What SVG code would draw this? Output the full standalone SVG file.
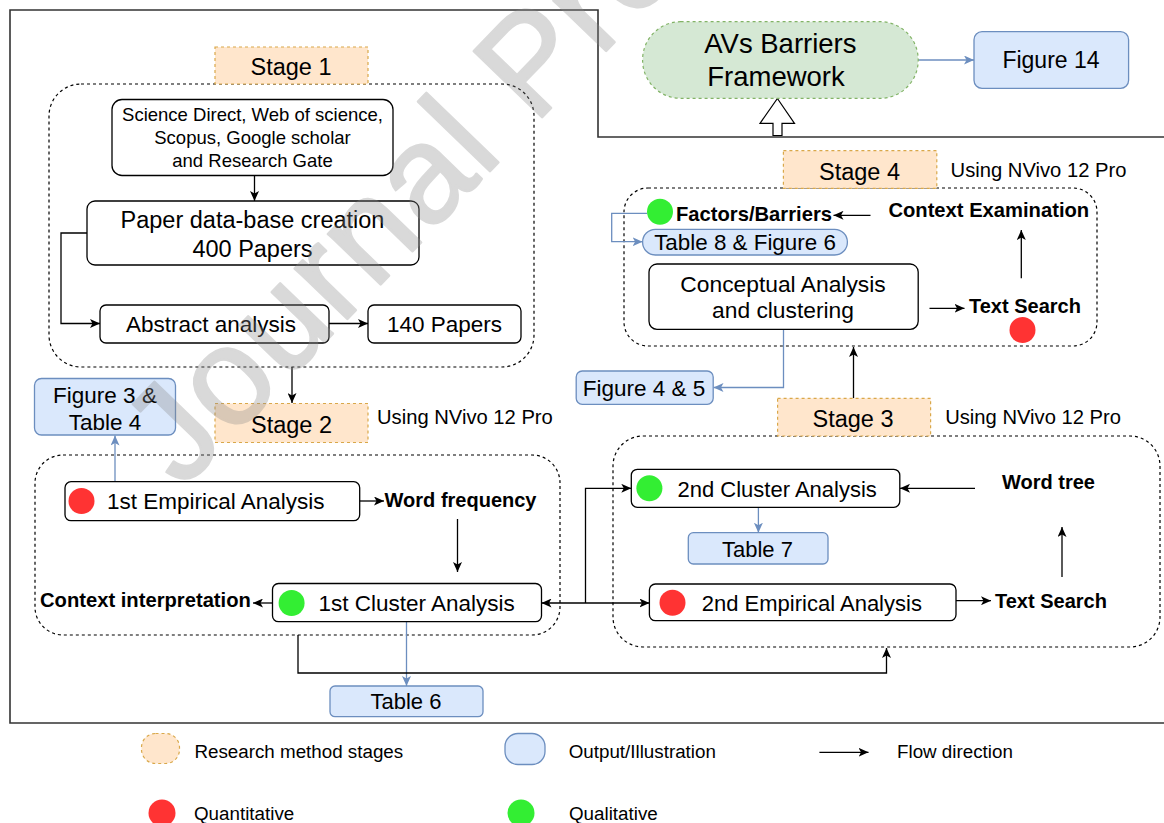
<svg xmlns="http://www.w3.org/2000/svg" width="1164" height="823" viewBox="0 0 1164 823">
<style>
.t{font-family:"Liberation Sans",Arial,Helvetica,sans-serif;fill:#000}
.b{font-weight:bold}
.box{fill:#fff;stroke:#000;stroke-width:1.3}
.stage{fill:#ffe6cc;stroke:#d9a84a;stroke-width:1.2;stroke-dasharray:3 3}
.out{fill:#dae8fc;stroke:#6c8ebf;stroke-width:1.3}
.cont{fill:none;stroke:#000;stroke-width:1.2;stroke-dasharray:3 3}
.c{fill:none;stroke:#000;stroke-width:1.3}
.cb{fill:none;stroke:#6c8ebf;stroke-width:1.3}
.red{fill:#f33}
.grn{fill:#3e3}
</style>
<defs>
<marker id="ak" markerUnits="userSpaceOnUse" markerWidth="11" markerHeight="9" refX="10" refY="4.5" orient="auto-start-reverse"><path d="M0,0 L10,4.5 L0,9 L2.5,4.5 z" fill="#000"/></marker>
<marker id="abl" markerUnits="userSpaceOnUse" markerWidth="11" markerHeight="9" refX="10" refY="4.5" orient="auto-start-reverse"><path d="M0,0 L10,4.5 L0,9 L2.5,4.5 z" fill="#6c8ebf"/></marker>
</defs>
<rect width="1164" height="823" fill="#fff"/>
<path id="frame" d="M1164,137 H598 V10 H10 V723 H1164" fill="none" stroke="#333" stroke-width="1.6"/>

<g id="containers">
<rect id="c1" class="cont" x="49" y="84" width="485" height="283" rx="32"/>
<rect id="c2" class="cont" x="35" y="455" width="525" height="180" rx="28"/>
<rect id="c3" class="cont" x="613" y="436" width="547" height="211" rx="30"/>
<rect id="c4" class="cont" x="624" y="188" width="473" height="158" rx="24"/>
</g>

<g id="connectors">
<path class="c" d="M254.5,176 V201" marker-end="url(#ak)"/>
<path class="c" d="M87,233 H61 V323.5 H100" marker-end="url(#ak)"/>
<path class="c" d="M329,323.5 H368" marker-end="url(#ak)"/>
<path class="c" d="M292,367 V403" marker-end="url(#ak)"/>
<path class="cb" d="M115,482 V435.5" marker-end="url(#abl)"/>
<path class="c" d="M360,501 H384" marker-end="url(#ak)"/>
<path class="c" d="M457.5,519 V572" marker-end="url(#ak)"/>
<path class="c" d="M272.5,603 H253" marker-end="url(#ak)"/>
<path class="cb" d="M406.5,622 V686" marker-end="url(#abl)"/>
<path class="c" d="M541.5,603 H649.5" marker-start="url(#ak)" marker-end="url(#ak)"/>
<path class="c" d="M585.5,603 V488.3 H631.3" marker-end="url(#ak)"/>
<path class="c" d="M298,635 V673 H886.5 V648" marker-end="url(#ak)"/>
<path class="c" d="M975,488.3 H900" marker-end="url(#ak)"/>
<path class="cb" d="M758.4,507.5 V532.7" marker-end="url(#abl)"/>
<path class="c" d="M956,600.7 H991" marker-end="url(#ak)"/>
<path class="c" d="M1062,577 V527" marker-end="url(#ak)"/>
<path class="c" d="M853.5,398.3 V347" marker-end="url(#ak)"/>
<path class="cb" d="M783.5,329.5 V387.5 H713.5" marker-end="url(#abl)"/>
<path class="c" d="M929.5,308.3 H964.5" marker-end="url(#ak)"/>
<path class="c" d="M1021.3,278.3 V230" marker-end="url(#ak)"/>
<path class="c" d="M870.5,215.3 H833.5" marker-end="url(#ak)"/>
<path class="cb" d="M647,213.3 H611.7 V241.7 H642.6" marker-end="url(#abl)"/>
<path class="cb" d="M918.2,60 H974" marker-end="url(#abl)"/>
<polygon points="777.4,98.5 794.5,123.3 782,123.3 782,135.5 773,135.5 773,123.3 760,123.3" fill="#fff" stroke="#000" stroke-width="1.2"/>
</g>

<g id="stage1"><rect class="stage" x="215" y="47" width="153" height="37"/><text class="t" x="291" y="75" font-size="23.5" text-anchor="middle">Stage 1</text></g>
<g id="sources"><rect class="box" x="112" y="99.5" width="281" height="76" rx="10"/>
<text class="t" font-size="18.5" text-anchor="middle"><tspan x="252.5" y="121">Science Direct, Web of science,</tspan><tspan x="252.5" y="144">Scopus, Google scholar</tspan><tspan x="252.5" y="167">and Research Gate</tspan></text></g>
<g id="paperdb"><rect class="box" x="87" y="201" width="332" height="64" rx="8"/>
<text class="t" font-size="23.5" text-anchor="middle"><tspan x="252.5" y="228">Paper data-base creation</tspan><tspan x="252.5" y="256.5">400 Papers</tspan></text></g>
<g id="abstract"><rect class="box" x="100" y="305" width="229" height="38" rx="6"/><text class="t" x="211" y="332" font-size="22.5" text-anchor="middle">Abstract analysis</text></g>
<g id="papers140"><rect class="box" x="368" y="305" width="153" height="38" rx="6"/><text class="t" x="444.5" y="332" font-size="22.5" text-anchor="middle">140 Papers</text></g>

<g id="fig3"><rect class="out" x="34.5" y="378.5" width="141" height="56.5" rx="7"/>
<text class="t" font-size="22.5" text-anchor="middle"><tspan x="105" y="402.5">Figure 3 &amp;</tspan><tspan x="105" y="429.5">Table 4</tspan></text></g>
<g id="stage2"><rect class="stage" x="215" y="403.5" width="153" height="39"/><text class="t" x="291.5" y="433" font-size="23.5" text-anchor="middle">Stage 2</text></g>
<text id="nvivo2" class="t" x="377" y="424" font-size="20.2">Using NVivo 12 Pro</text>

<g id="emp1"><rect class="box" x="65" y="481.7" width="294.7" height="39" rx="6"/><circle class="red" cx="81.5" cy="501" r="13"/><text class="t" x="107" y="509.3" font-size="22.5">1st Empirical Analysis</text></g>
<text id="wordfreq" class="t b" x="384.6" y="506.7" font-size="20">Word frequency</text>
<g id="clu1"><rect class="box" x="272.5" y="583.5" width="269" height="38.2" rx="6"/><circle class="grn" cx="291.6" cy="603" r="13"/><text class="t" x="318.4" y="610.7" font-size="22.5">1st Cluster Analysis</text></g>
<text id="ctxint" class="t b" x="40" y="607.3" font-size="20.2">Context interpretation</text>
<g id="table6"><rect class="out" x="330" y="686" width="153" height="30.7" rx="5"/><text class="t" x="406" y="708.5" font-size="22" text-anchor="middle">Table 6</text></g>

<g id="fig45"><rect class="out" x="576.2" y="371" width="137" height="33.3" rx="6"/><text class="t" x="644" y="396" font-size="22.5" text-anchor="middle">Figure 4 &amp; 5</text></g>
<g id="stage3"><rect class="stage" x="777.6" y="398.3" width="153" height="37.7"/><text class="t" x="853" y="426.7" font-size="23.5" text-anchor="middle">Stage 3</text></g>
<text id="nvivo3" class="t" x="945.2" y="424" font-size="20.2">Using NVivo 12 Pro</text>
<g id="clu2"><rect class="box" x="631.3" y="469.3" width="268.5" height="38" rx="6"/><circle class="grn" cx="649.4" cy="488.3" r="13"/><text class="t" x="677.5" y="497.3" font-size="22">2nd Cluster Analysis</text></g>
<text id="wordtree" class="t b" x="1002" y="489.3" font-size="20">Word tree</text>
<g id="table7"><rect class="out" x="688.3" y="532.7" width="139.7" height="31.3" rx="5"/><text class="t" x="757.5" y="557.3" font-size="22" text-anchor="middle">Table 7</text></g>
<g id="emp2"><rect class="box" x="649.4" y="584" width="306.6" height="36.7" rx="6"/><circle class="red" cx="672.5" cy="602.7" r="13"/><text class="t" x="701.8" y="610.7" font-size="22">2nd Empirical Analysis</text></g>
<text id="textsearch3" class="t b" x="995" y="608.3" font-size="20">Text Search</text>

<g id="avs"><rect x="642.6" y="21.7" width="275.6" height="76.6" rx="38" fill="#d5e8d4" stroke="#82b366" stroke-width="1.2" stroke-dasharray="3 3"/>
<text class="t" font-size="27.5" text-anchor="middle"><tspan x="780.4" y="53.3">AVs Barriers</tspan><tspan x="776" y="86">Framework</tspan></text></g>
<g id="fig14"><rect class="out" x="974" y="31.7" width="154.6" height="56.6" rx="8"/><text class="t" x="1051" y="68.3" font-size="23" text-anchor="middle">Figure 14</text></g>
<g id="stage4"><rect class="stage" x="783.4" y="150.7" width="153.4" height="37.6"/><text class="t" x="859.5" y="180" font-size="23.5" text-anchor="middle">Stage 4</text></g>
<text id="nvivo4" class="t" x="950.6" y="176.7" font-size="20.2">Using NVivo 12 Pro</text>
<g id="factors"><circle class="grn" cx="660" cy="211.7" r="13"/><text class="t b" x="676" y="220.7" font-size="20.2">Factors/Barriers</text></g>
<text id="ctxexam" class="t b" x="888.4" y="216.7" font-size="20.2">Context Examination</text>
<g id="table8"><rect class="out" x="642.6" y="229.3" width="204.8" height="25.7" rx="12.8"/><text class="t" x="745" y="250" font-size="22.4" text-anchor="middle">Table 8 &amp; Figure 6</text></g>
<g id="concept"><rect class="box" x="649" y="264" width="269.2" height="65.3" rx="8"/>
<text class="t" font-size="22.8" text-anchor="middle"><tspan x="783" y="292">Conceptual Analysis</tspan><tspan x="783" y="318">and clustering</tspan></text></g>
<g id="textsearch4"><text class="t b" x="969" y="312.7" font-size="20">Text Search</text><circle class="red" cx="1022.5" cy="330" r="13"/></g>

<g id="legend">
<rect class="stage" x="141.5" y="733.5" width="38" height="30" rx="14"/>
<text class="t" x="194.4" y="758.3" font-size="18.8">Research method stages</text>
<rect class="out" x="505" y="733.5" width="40" height="31" rx="13"/>
<text class="t" x="568.7" y="758.3" font-size="18.8">Output/Illustration</text>
<path class="c" d="M819.4,752.3 H868.5" marker-end="url(#ak)"/>
<text class="t" x="897" y="758.3" font-size="18.8">Flow direction</text>
<circle class="red" cx="162" cy="813" r="13.5"/>
<text class="t" x="194" y="820" font-size="18.8">Quantitative</text>
<circle class="grn" cx="521" cy="813" r="13.5"/>
<text class="t" x="569" y="820" font-size="18.8">Qualitative</text>
</g>

<g id="watermark" opacity="0.32"><text class="t" x="182" y="490" font-size="138" letter-spacing="2" style="fill:#8a8a8a;stroke:#8a8a8a;stroke-width:2.5;stroke-linejoin:round" transform="rotate(-46 182 490)">Journal Pre</text></g>
</svg>
